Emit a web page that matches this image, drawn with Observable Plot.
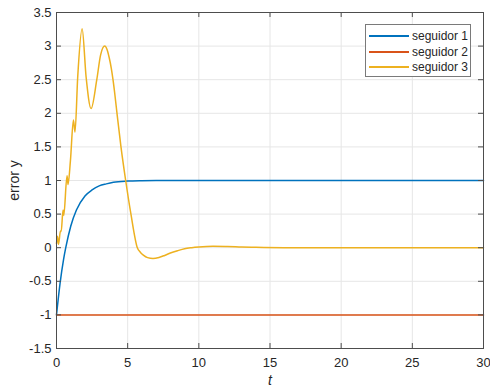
<!DOCTYPE html>
<html>
<head>
<meta charset="utf-8">
<script src="https://cdn.jsdelivr.net/npm/d3@7"></script>
<script src="https://cdn.jsdelivr.net/npm/@observablehq/plot@0.6"></script>
<style>
  html, body { margin: 0; padding: 0; background: #fff; }
  #wrap { position: relative; width: 490px; height: 389px; font-family: "Liberation Sans", Arial, sans-serif; }
  #legend { position: absolute; left: 365px; top: 24px; width: 104px; height: 51px; border: 1px solid #7a7a7a; background: #fff; box-sizing: content-box; }
  .row { position: absolute; left: 0; height: 16px; display: flex; align-items: center; font-size: 12px; color: #262626; }
  .sw { width: 40px; height: 2px; margin-left: 3px; margin-right: 3px; }
</style>
</head>
<body>
<div id="wrap"></div>
<script>
const seriesNames = ["seguidor 1", "seguidor 2", "seguidor 3"];
const seriesColors = ["#0072BD", "#D95319", "#EDB120"];

const t1 = [0, 0.25, 0.5, 0.65, 1.0, 1.4, 2.0, 2.5, 3.0, 3.5, 4.0, 5.0, 6.0, 7.0, 8, 10, 15, 20, 25, 30];
const y1 = [-1, -0.53, -0.17, 0, 0.32, 0.56, 0.77, 0.86, 0.92, 0.95, 0.973, 0.991, 0.997, 0.999, 1, 1, 1, 1, 1, 1];

const t2 = [0, 30];
const y2 = [-1, -1];

const t3 = [0, 0.07, 0.14, 0.28, 0.33, 0.46, 0.51, 0.74, 0.81, 0.98, 1.19, 1.30, 1.49, 1.80, 2.08, 2.43, 2.83, 3.1, 3.39, 3.55, 3.7, 3.85, 3.97, 4.1, 4.25, 4.53, 4.86, 5.23, 5.68, 5.9, 6.1, 6.4, 6.78, 7.2, 7.6, 8.0, 8.5, 9.0, 9.5, 10, 11, 12, 13, 14, 16, 20, 30];
const y3 = [0.06, 0.17, 0.05, 0.25, 0.24, 0.56, 0.48, 1.07, 0.94, 1.3, 1.9, 1.72, 2.54, 3.26, 2.54, 2.07, 2.5, 2.87, 3.0, 2.95, 2.83, 2.67, 2.5, 2.28, 2.0, 1.5, 1.0, 0.5, 0.0, -0.07, -0.11, -0.148, -0.16, -0.145, -0.115, -0.08, -0.045, -0.015, 0.0, 0.01, 0.02, 0.018, 0.01, 0.005, 0, 0, 0];

const xTicks = [0, 5, 10, 15, 20, 25, 30];
const yTicks = [-1.5, -1, -0.5, 0, 0.5, 1, 1.5, 2, 2.5, 3, 3.5];

const toRows = (t, y) => t.map((v, i) => ({t: v, y: y[i]}));
const s1 = toRows(t1, y1), s2 = toRows(t2, y2), s3 = toRows(t3, y3);

const W = 490, H = 389, mL = 56, mR = 7, mT = 12, mB = 41;
const pw = W - mL - mR, ph = H - mT - mB, tk = 5;
const axisColor = "#4d4d4d";

const chart = Plot.plot({
  width: W, height: H,
  marginLeft: mL, marginRight: mR, marginTop: mT, marginBottom: mB,
  style: {fontFamily: "'Liberation Sans', Arial, sans-serif", background: "#fff"},
  x: {domain: [0, 30]},
  y: {domain: [-1.5, 3.5]},
  marks: [
    Plot.gridX(xTicks, {stroke: "#e6e6e6", strokeOpacity: 1}),
    Plot.gridY(yTicks, {stroke: "#e6e6e6", strokeOpacity: 1}),
    Plot.line(s1, {x: "t", y: "y", stroke: seriesColors[0], strokeWidth: 1.5, curve: "monotone-x"}),
    Plot.line(s2, {x: "t", y: "y", stroke: seriesColors[1], strokeWidth: 1.5}),
    Plot.line(s3, {x: "t", y: "y", stroke: seriesColors[2], strokeWidth: 1.5, curve: "monotone-x"}),
    Plot.tickX(xTicks, {x: d => d, insetTop: ph - tk, stroke: axisColor}),
    Plot.tickX(xTicks, {x: d => d, insetBottom: ph - tk, stroke: axisColor}),
    Plot.tickY(yTicks, {y: d => d, insetRight: pw - tk, stroke: axisColor}),
    Plot.tickY(yTicks, {y: d => d, insetLeft: pw - tk, stroke: axisColor}),
    Plot.frame({stroke: axisColor}),
    Plot.axisX(xTicks, {tickSize: 0, tickPadding: 9, fontSize: 13, fill: "#262626", tickFormat: d => String(d), label: null}),
    Plot.axisX([], {tickSize: 0, label: "t", labelAnchor: "center", labelArrow: "none", labelOffset: 36, fontSize: 14, fontStyle: "italic", fill: "#262626"}),
    Plot.axisY(yTicks, {tickSize: 0, tickPadding: 5, fontSize: 13, fill: "#262626", tickFormat: d => String(d), label: null}),
    Plot.axisY([], {tickSize: 0, label: "error y", labelAnchor: "center", labelArrow: "none", labelOffset: 47, fontSize: 14, fill: "#262626"})
  ]
});

const wrap = document.getElementById("wrap");
wrap.appendChild(chart);

const legend = document.createElement("div");
legend.id = "legend";
seriesNames.forEach((name, i) => {
  const row = document.createElement("div");
  row.className = "row";
  row.style.top = (3 + i * 15.5) + "px";
  const sw = document.createElement("span");
  sw.className = "sw";
  sw.style.background = seriesColors[i];
  const lab = document.createElement("span");
  lab.textContent = name;
  row.appendChild(sw);
  row.appendChild(lab);
  legend.appendChild(row);
});
wrap.appendChild(legend);
</script>
</body>
</html>
